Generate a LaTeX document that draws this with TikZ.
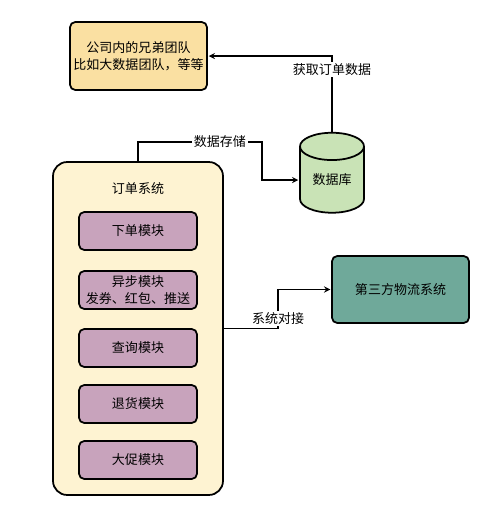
\documentclass[tikz,border=0pt]{standalone}
\usepackage{fontspec}
\setmainfont{Noto Sans CJK SC}
\usepackage{tikz}
\usetikzlibrary{shapes.geometric}

\definecolor{teamfill}{HTML}{FAE0A2}
\definecolor{sysfill}{HTML}{FEF3D2}
\definecolor{modfill}{HTML}{C8A3BC}
\definecolor{dbfill}{HTML}{C9E3B6}
\definecolor{logfill}{HTML}{6FA99A}

\begin{document}
\begin{tikzpicture}[x=0.02cm,y=-0.02cm,
        font=\fontsize{7.4}{9.4}\selectfont,
        line width=0.6pt,
        box/.style={rectangle, rounded corners=3pt, draw, line width=1pt,
                        align=center, inner sep=0pt},
        mod/.style={box, fill=modfill, minimum width=2.36cm, minimum height=0.76cm},
        arr/.style={->, >=stealth, shorten >=0.5pt},
        lab/.style={fill=white, inner sep=1pt}]
    \useasboundingbox (0,0) rectangle (500,514);
    \node[box, fill=teamfill, minimum width=2.74cm, minimum height=1.36cm]
        (team) at (138.5,56) {公司内的兄弟团队\\比如大数据团队，等等};
    \node[cylinder, shape border rotate=90, aspect=0.7, draw, line width=1pt,
        fill=dbfill, minimum width=1.28cm, minimum height=1.6cm, inner sep=0pt]
        (db) at (332,180) {数据库};
    \node[box, rounded corners=8pt, fill=sysfill, minimum width=3.4cm,
        minimum height=6.66cm] (order) at (138,328.5) {};
    \node (title) at (138,189) {订单系统};
    \node[mod] (m1) at (138,231) {下单模块};
    \node[mod] (m2) at (138,290) {异步模块\\发券、红包、推送};
    \node[mod] (m3) at (138,348) {查询模块};
    \node[mod] (m4) at (138,404) {退货模块};
    \node[mod] (m5) at (138,460) {大促模块};
    \node[box, fill=logfill, minimum width=2.74cm, minimum height=1.34cm]
        (logi) at (400.5,289.5) {第三方物流系统};
    % connectors
    \draw[arr] (db.north) |- node[lab, pos=0.41] {获取订单数据} (team.east);
    \coordinate (store) at (262,142);
    \draw[arr] (order.north) |- node[lab, pos=0.83] {数据存储} (store) |- (db.west);
    \coordinate (link) at (278,328.5);
    \draw[arr] (order.east) -- (link) |- node[lab, pos=0.13] {系统对接} (logi.west);
\end{tikzpicture}
\end{document}
